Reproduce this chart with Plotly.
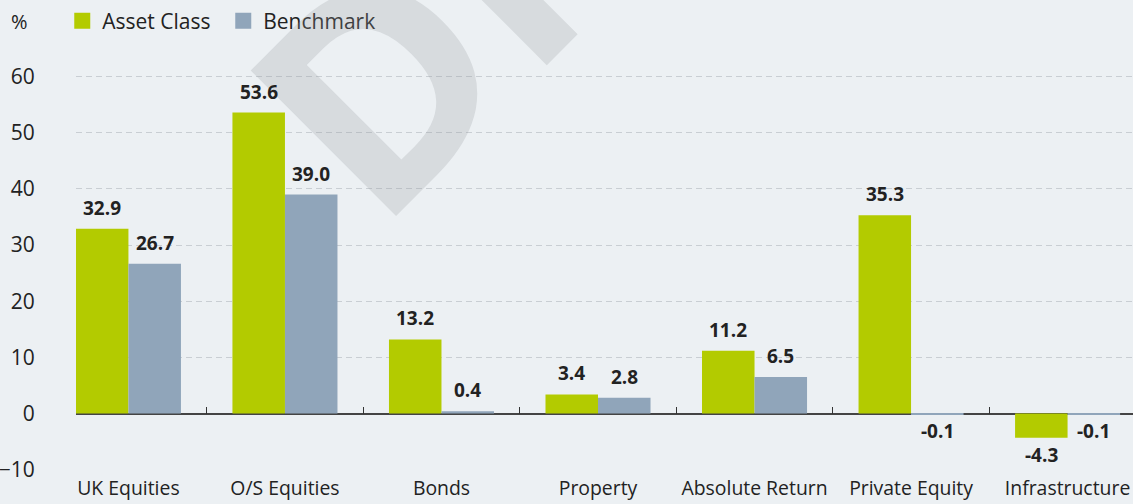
import plotly.graph_objects as go

categories = ["UK Equities", "O/S Equities", "Bonds", "Property", "Absolute Return", "Private Equity", "Infrastructure"]
asset_class = [32.9, 53.6, 13.2, 3.4, 11.2, 35.3, -4.3]
benchmark = [26.7, 39.0, 0.4, 2.8, 6.5, -0.1, -0.1]
y_ticks = [-10, 0, 10, 20, 30, 40, 50, 60]
series_names = ["Asset Class", "Benchmark"]

GREEN = "#b3cb00"
BLUE = "#90a5ba"
BG = "#ecf0f3"
TXT = "#222222"
FONT = "Open Sans"
BARGAP = 0.329

fig = go.Figure()
for name, vals, col in ((series_names[0], asset_class, GREEN), (series_names[1], benchmark, BLUE)):
    fig.add_trace(go.Bar(name=name, x=categories, y=vals, legendgroup=name, showlegend=False,
                         marker=dict(color=col, line=dict(width=0))))
# legend entries with larger square swatches
for name, col in ((series_names[0], GREEN), (series_names[1], BLUE)):
    fig.add_trace(go.Scatter(name=name, x=[None], y=[None], mode="markers", legendgroup=name,
                             marker=dict(symbol="square", size=19, color=col, line=dict(width=0)),
                             hoverinfo="skip"))
# invisible trace carrying the zero-line axis with boundary ticks
fig.add_trace(go.Scatter(x=categories, y=[None] * len(categories), xaxis="x2",
                         showlegend=False, hoverinfo="skip", mode="markers"))

ymin, ymax = -10.05, 66
xr = [-0.335, 6.418]

annotations = [
    dict(text="<b>DRAFT</b>", xref="paper", yref="paper", x=0.521, y=1.505,
         xanchor="center", yanchor="middle", textangle=-45, showarrow=False,
         font=dict(family=FONT, size=288, color="rgba(150,155,160,0.25)")),
    dict(text="%", xref="paper", yref="paper", x=-0.0635, y=1.0515,
         xanchor="left", yanchor="middle", showarrow=False,
         font=dict(family=FONT, size=20, color=TXT)),
]
half = (1 - BARGAP) / 4
for series, sign in ((asset_class, -1), (benchmark, 1)):
    for i, v in enumerate(series):
        pos = v >= 0
        annotations.append(dict(
            text=f"<b>{v:.1f}</b>", x=i + sign * half, y=v, xref="x", yref="y",
            xanchor="center", yanchor="bottom" if pos else "top",
            yshift=6 if pos else -2, showarrow=False,
            font=dict(family=FONT, size=19, color=TXT)))

fig.update_layout(
    width=1133, height=504,
    margin=dict(l=76, r=0, t=43, b=34, autoexpand=False),
    paper_bgcolor=BG, plot_bgcolor=BG,
    barmode="group", bargap=BARGAP, bargroupgap=0,
    font=dict(family=FONT, size=19, color=TXT),
    showlegend=True,
    legend=dict(orientation="h", x=-0.013, y=1.0515, xanchor="left", yanchor="middle",
                bgcolor="rgba(0,0,0,0)", font=dict(family=FONT, size=21, color=TXT),
                traceorder="normal", itemsizing="trace", entrywidth=116,
                entrywidthmode="pixels"),
    xaxis=dict(type="category", categoryorder="array", categoryarray=categories,
               range=xr, showgrid=False, zeroline=False, showline=False,
               ticks="outside", ticklen=1, tickcolor="rgba(0,0,0,0)", automargin=False,
               tickfont=dict(family=FONT, size=19.4, color=TXT)),
    xaxis2=dict(type="category", categoryorder="array", categoryarray=categories,
                range=xr, overlaying="x", anchor="free",
                position=(0 - ymin) / (ymax - ymin), side="bottom",
                showline=False, showgrid=False, zeroline=False, automargin=False,
                ticks="inside", tickson="boundaries", ticklen=7, tickwidth=1.3,
                tickcolor="#333333", showticklabels=False),
    yaxis=dict(range=[ymin, ymax], tickvals=y_ticks, showgrid=True, automargin=False,
               gridcolor="#c9ced3", gridwidth=1, griddash="6px,4px",
               zeroline=True, zerolinecolor="#444444", zerolinewidth=1.5,
               ticks="outside", ticklen=36, tickcolor="rgba(0,0,0,0)",
               tickfont=dict(family=FONT, size=21, color=TXT)),
    annotations=annotations,
    hovermode=False,
)

fig.write_html("out.html", config={"displayModeBar": False},
               post_script="document.body.style.margin='0px';document.body.style.overflow='hidden';")
